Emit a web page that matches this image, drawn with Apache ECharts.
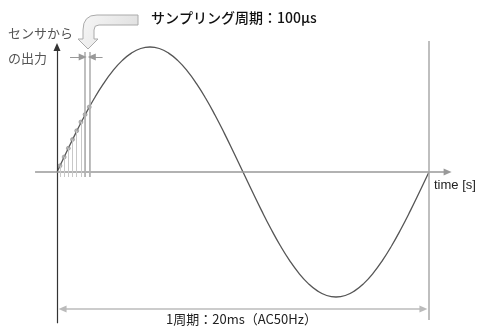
<!DOCTYPE html>
<html><head><meta charset="utf-8">
<script src="https://cdn.jsdelivr.net/npm/echarts@6/dist/echarts.min.js"></script>
<style>html,body{margin:0;padding:0;background:#fff}#c{width:480px;height:327px}</style>
</head><body><div id="c"></div>
<script>
// time in ms, signal normalized (peak = 1)
const waveTimes = [0,0.5,1,1.5,2,2.5,3,3.5,4,4.5,5,5.5,6,6.5,7,7.5,8,8.5,9,9.5,10,10.5,11,11.5,12,12.5,13,13.5,14,14.5,15,15.5,16,16.5,17,17.5,18,18.5,19,19.5,20];
const waveValues = [0,0.156,0.309,0.454,0.588,0.707,0.809,0.891,0.951,0.988,1,0.988,0.951,0.891,0.809,0.707,0.588,0.454,0.309,0.156,0,-0.156,-0.309,-0.454,-0.588,-0.707,-0.809,-0.891,-0.951,-0.988,-1,-0.988,-0.951,-0.891,-0.809,-0.707,-0.588,-0.454,-0.309,-0.156,0];
const sampleTimes = [0.16,0.385,0.61,0.835,1.06,1.285,1.51,1.735];
const sampleValues = [0.05,0.12,0.19,0.26,0.33,0.40,0.46,0.52];
const periodLabel = '1周期：20ms（AC50Hz）';
const samplingLabel = 'サンプリング周期：100μs';
const yLabel1 = 'センサから';
const yLabel2 = 'の出力';
const xLabel = 'time [s]';

const chart = echarts.init(document.getElementById('c'), null, {renderer:'canvas'});
const FONT = '"Noto Sans CJK JP", "Liberation Sans", sans-serif';
function seg(x1,y1,x2,y2,s1,s2,color,width){
  return [{coord:[x1,y1],symbol:s1,lineStyle:{color:color,width:width,type:'solid'},itemStyle:{color:color}},
          {coord:[x2,y2],symbol:s2}];
}
const lines = [];
lines.push(seg(0,-1.21,0,1.0,'none','triangle','#333',1.2));
lines.push(seg(-1.18,0,21.0,0,'none','triangle','#999',1.5));
lines.push(seg(20,-1.184,20,1.048,'none','none','#aaa',1.5));
lines.push(seg(0.3,-1.096,19.7,-1.096,'triangle','triangle','#bbb',1.5));
sampleTimes.forEach((t,i)=>{ lines.push(seg(t,-0.04,t,sampleValues[i],'none','none','#c8c8c8',1)); });
lines.push(seg(sampleTimes[6],-0.04,sampleTimes[6],0.96,'none','none','#b0b0b0',1.6));
lines.push(seg(sampleTimes[7],-0.04,sampleTimes[7],0.96,'none','none','#b0b0b0',1.6));
lines.push(seg(0.7,0.92,1.38,0.92,'none','triangle','#999',1));
lines.push(seg(2.45,0.92,1.87,0.92,'none','triangle','#999',1));

const bentArrow = [[138,15],[97,15],[90.9,15.9],[86.5,18.8],[83.9,23.4],[83,30],[83,39],[78,39],[88,49],[98,39],[94,39],[94,30],[95.2,26.2],[99,25],[138,25]];

chart.setOption({
  animation:false,
  grid:{left:0,right:0,top:0,bottom:0},
  xAxis:{type:'value',min:-57/18.6,max:20+51/18.6,show:false},
  yAxis:{type:'value',min:-1.24,max:172/125,show:false},
  series:[
    {type:'line',data:[],silent:true,
     markLine:{silent:true,animation:false,symbolSize:[7,8],label:{show:false},data:lines}},
    {type:'line',data:waveTimes.map((t,i)=>[t,waveValues[i]]),smooth:true,showSymbol:false,
     lineStyle:{color:'#555',width:1.3},silent:true,z:3},
    {type:'scatter',data:sampleTimes.map((t,i)=>[t,sampleValues[i]]),symbolSize:4,
     itemStyle:{color:'#aaa',borderColor:'#777',borderWidth:0.6},silent:true,z:4}
  ],
  graphic:[
    {type:'polygon',shape:{points:bentArrow},
     style:{fill:{type:'linear',x:0,y:0,x2:1,y2:1,colorStops:[{offset:0,color:'#f8f8f8'},{offset:1,color:'#dcdcdc'}]},stroke:'#aaa',lineWidth:1},z:10},
    {type:'text',left:151,top:11,style:{text:samplingLabel,font:'500 14px '+FONT,fill:'#111'},z:10},
    {type:'text',left:8,top:27,style:{text:yLabel1,font:'13px '+FONT,fill:'#555'},z:10},
    {type:'text',left:8,top:52,style:{text:yLabel2,font:'13px '+FONT,fill:'#555'},z:10},
    {type:'text',left:434,top:179,style:{text:xLabel,font:'13px "Liberation Sans", Arial, sans-serif',fill:'#222'},z:10},
    {type:'text',left:166,top:313,style:{text:periodLabel,font:'13px '+FONT,fill:'#222'},z:10}
  ]
});
</script></body></html>
